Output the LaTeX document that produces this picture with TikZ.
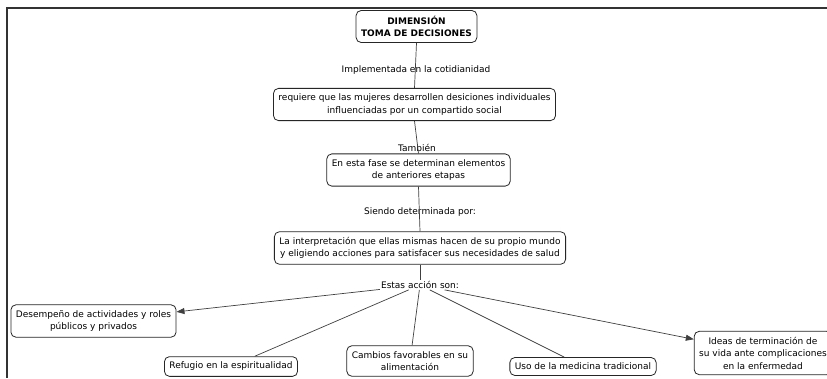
\documentclass[tikz,border=0pt]{standalone}
\usepackage{fontspec}
\setmainfont{DejaVu Sans}
\usetikzlibrary{arrows.meta}
\begin{document}
\begin{tikzpicture}[x=1pt,y=-1pt,
  concept/.style={draw=black!85, line width=0.8pt, rounded corners=5pt, fill=white, align=center,
    font=\fontsize{9}{12.5}\selectfont, inner xsep=5pt, inner ysep=5.5pt},
  lbl/.style={inner sep=1pt, font=\fontsize{9}{12.5}\selectfont},
  link/.style={draw=black!75, line width=0.7pt},
  arr/.style={link, -{Triangle[length=8pt,width=6pt]}}]
\clip (0,0) rectangle (827,378);
\fill[white] (0,0) rectangle (827,378);
\draw[line width=1.5pt, black!80] (827,8) -- (7,8) -- (7,378);

\node[concept, font=\bfseries\fontsize{9}{12.5}\selectfont] (top) at (416.5,26.5) {DIMENSIÓN\\TOMA DE DECISIONES};
\node[concept] (b2) at (414.5,104.5) {requiere que las mujeres desarrollen desiciones individuales\\influenciadas por un compartido social};
\node[concept] (b3) at (418.5,170) {En esta fase se determinan elementos\\de anteriores etapas};
\node[concept] (b4) at (420,248) {La interpretación que ellas mismas hacen de su propio mundo\\y eligiendo acciones para satisfacer sus necesidades de salud};

\node[concept] (des) at (93.5,321) {Desempeño de actividades y roles\\públicos y privados};
\node[concept] (ref) at (231,366.5) {Refugio en la espiritualidad};
\node[concept] (cam) at (410,361) {Cambios favorables en su\\alimentación};
\node[concept] (uso) at (583,366.5) {Uso de la medicina tradicional};
\node[concept] (ide) at (763,353) {Ideas de terminación de\\su vida ante complicaciones\\en la enfermedad};

\node[lbl] (l1) at (416,70) {Implementada en la cotidianidad};
\node[lbl] (l2) at (417,148) {También};
\node[lbl] (l3) at (420,212) {Siendo determinada por:};
\node[lbl] (l4) at (420,285) {Estas acción son:};

\draw[link] (top.south) -- (b2.north);
\draw[link] (b2.south) -- (b3.north);
\draw[link] (b3.south) -- (b4.north);
\draw[link] (b4.south) -- (l4.north);

\draw[arr] (l4) -- (des);
\draw[link] (l4) -- (ref);
\draw[link] (l4) -- (cam);
\draw[link] (l4) -- (uso);
\draw[arr] (l4) -- (ide);
\end{tikzpicture}
\end{document}
